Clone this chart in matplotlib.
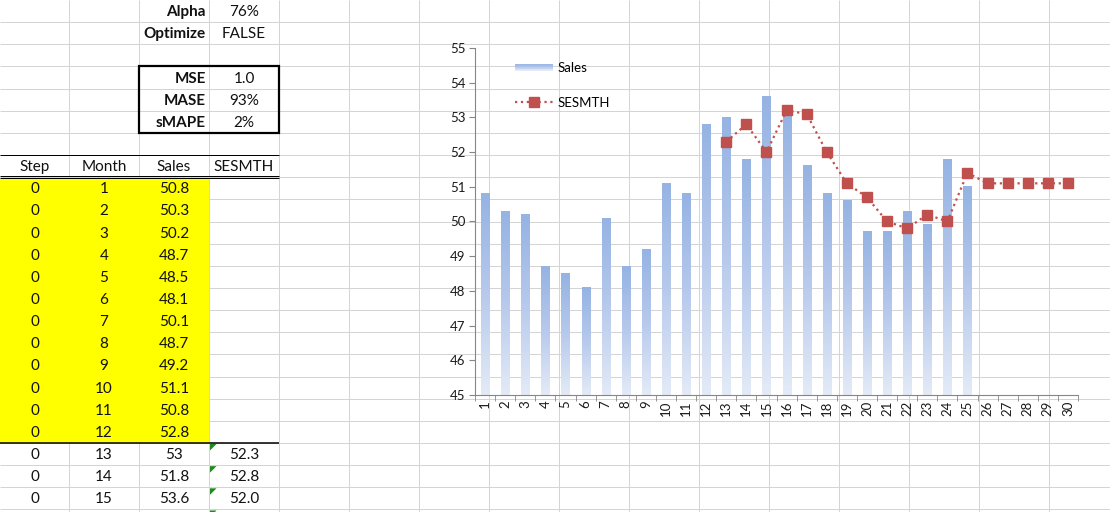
import numpy as np
import matplotlib
matplotlib.use('Agg')
import matplotlib.pyplot as plt
from matplotlib.colors import LinearSegmentedColormap
from matplotlib.patches import Rectangle, Polygon
from matplotlib.legend_handler import HandlerBase
from matplotlib.lines import Line2D

plt.rcParams['font.family'] = ['Lato', 'DejaVu Sans']

# data
months = list(range(1, 31))
sales = [50.8, 50.3, 50.2, 48.7, 48.5, 48.1, 50.1, 48.7, 49.2, 51.1,
         50.8, 52.8, 53.0, 51.8, 53.6, 53.1, 51.6, 50.8, 50.6, 49.7,
         49.7, 50.3, 49.9, 51.8, 51.0]
ses_months = list(range(13, 31))
sesmth = [52.3, 52.8, 52.0, 53.2, 53.1, 52.0, 51.1, 50.7, 50.0, 49.8,
          50.2, 50.0, 51.4, 51.1, 51.1, 51.1, 51.1, 51.1]
params = [('Alpha', '76%'), ('Optimize', 'FALSE')]
errors = [('MSE', '1.0'), ('MASE', '93%'), ('sMAPE', '2%')]
headers = ['Step', 'Month', 'Sales', 'SESMTH']

W, H = 1110, 512
RH = 22.15          # sheet row height in px
CW = 70             # sheet column width in px
PX = 0.72           # one pixel in points
grid_col = '#D4D4D4'

fig = plt.figure(figsize=(W / 100, H / 100), dpi=100)
fig.patch.set_facecolor('white')

# ---- spreadsheet background ----
bg = fig.add_axes([0, 0, 1, 1])
bg.set_xlim(0, W)
bg.set_ylim(H, 0)
bg.axis('off')

col_x = [69 + CW * k for k in range(15)]
row_y = [RH * r for r in range(1, 24)]
bg.vlines(col_x, 0, H, color=grid_col, lw=PX, zorder=1)
bg.hlines(row_y, 0, W, color=grid_col, lw=PX, zorder=1)


def cy(r):
    return RH * r + RH / 2 + 1


txt = dict(fontsize=11, color='#111111', va='center')

for i, (k, v) in enumerate(params):
    bg.text(206, cy(i), k, ha='right', fontweight='bold', **txt)
    bg.text(244, cy(i), v, ha='center', **txt)
for i, (k, v) in enumerate(errors):
    bg.text(206, cy(3 + i), k, ha='right', fontweight='bold', **txt)
    bg.text(244, cy(3 + i), v, ha='center', **txt)
bg.add_patch(Rectangle((139, RH * 3), 140, RH * 3, fill=False,
                       edgecolor='black', lw=1.6, zorder=4))

# header row
centers = [34.5, 104, 174, 244]
for c, h in zip(centers, headers):
    bg.text(c, cy(7), h, ha='center', **txt)
bg.hlines(RH * 7, 0, 279, color='black', lw=PX, zorder=4)
bg.hlines([RH * 8 - 1.3, RH * 8 + 1.0], 0, 279, color='black', lw=PX, zorder=4)

# yellow block (months 1-12)
bg.add_patch(Rectangle((0, RH * 8 + 1.5), 209, RH * 12 - 1.5,
                       facecolor='#FFFF00', edgecolor='none', zorder=2))
bg.hlines(RH * 20, 0, 279, color='black', lw=1.1, zorder=4)

for i in range(15):
    r = 8 + i
    bg.text(centers[0], cy(r), '0', ha='center', zorder=5, **txt)
    bg.text(centers[1], cy(r), str(months[i]), ha='center', zorder=5, **txt)
    bg.text(centers[2], cy(r), f'{sales[i]:g}', ha='center', zorder=5, **txt)
    if months[i] in ses_months:
        j = ses_months.index(months[i])
        bg.text(centers[3], cy(r), f'{sesmth[j]:.1f}', ha='center', zorder=5, **txt)
# little green error flags
for r in range(20, 24):
    y0 = RH * r + 1
    bg.add_patch(Polygon([(210, y0), (216.5, y0), (210, y0 + 6.5)],
                         closed=True, facecolor='#1F8A1F', edgecolor='none', zorder=5))

# ---- chart ----
x0, x1, y0, y1 = 475, 1078, 48, 395
ax = fig.add_axes([x0 / W, (H - y1) / H, (x1 - x0) / W, (y1 - y0) / H])
ax.patch.set_visible(False)

cmap = LinearSegmentedColormap.from_list('bar', ['#E4EBF7', '#B7C9EC', '#95B3E3'])
grad = np.linspace(0, 1, 256).reshape(-1, 1)
bw = 0.4
for i, v in enumerate(sales):
    ax.imshow(grad, extent=[i - bw / 2, i + bw / 2, 45, v], origin='lower',
              aspect='auto', cmap=cmap, zorder=2, interpolation='bilinear')

xs = [months.index(m) for m in ses_months]
ax.plot(xs, sesmth, color='#C0504D', ls=':', lw=1.6, marker='s',
        markersize=7.5, markeredgecolor='#C0504D', zorder=3)

ax.set_xlim(-0.5, 29.5)
ax.set_ylim(45, 55)
for s in ['top', 'right']:
    ax.spines[s].set_visible(False)
for s in ['left', 'bottom']:
    ax.spines[s].set_color('#868686')
    ax.spines[s].set_linewidth(0.8)

ax.set_yticks(range(45, 56))
ax.tick_params(axis='y', direction='out', length=4, color='#868686',
               labelsize=9.5, pad=3, labelcolor='#1a1a1a')
ax.set_xticks(range(30))
ax.set_xticklabels([str(m) for m in months], rotation=90, fontsize=9.5, color='#1a1a1a')
ax.set_xticks(np.arange(-0.5, 30, 1), minor=True)
ax.tick_params(axis='x', which='major', length=0, pad=4)
ax.tick_params(axis='x', which='minor', direction='out', length=4, color='#868686')


class GradHandler(HandlerBase):
    def create_artists(self, legend, orig_handle, xdescent, ydescent,
                       width, height, fontsize, trans):
        arts = []
        n = 10
        hh = height * 0.8
        yb = -ydescent + (height - hh) / 2
        for k in range(n):
            arts.append(Rectangle((-xdescent, yb + hh * k / n), width, hh / n,
                                  facecolor=cmap(k / (n - 1)),
                                  edgecolor='none', transform=trans))
        return arts


sales_handle = Rectangle((0, 0), 1, 1)
ses_handle = Line2D([], [], color='#C0504D', ls=':', lw=1.6, marker='s',
                    markersize=7.5)
leg = ax.legend([sales_handle, ses_handle], ['Sales', 'SESMTH'],
                handler_map={Rectangle: GradHandler()},
                loc='upper left', bbox_to_anchor=(0.066, 0.96),
                frameon=False, fontsize=9.5, handlelength=2.9,
                handletextpad=0.35, labelspacing=1.75, borderpad=0,
                borderaxespad=0)

fig.savefig('out.png', dpi=100)
